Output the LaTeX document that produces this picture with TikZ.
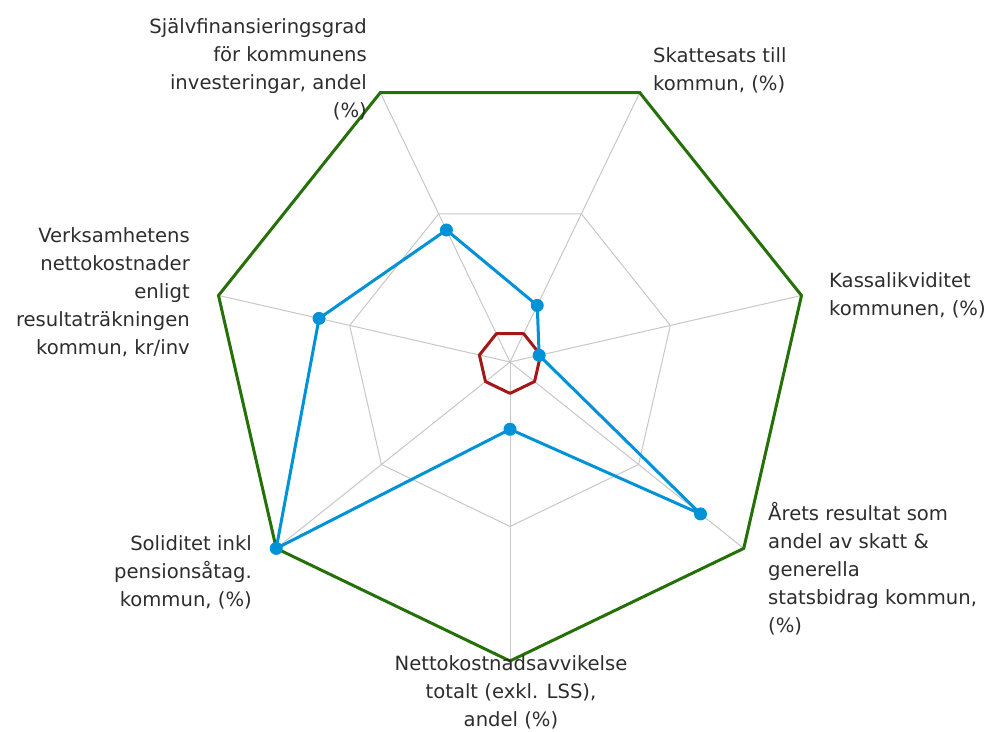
\documentclass[tikz,border=0pt]{standalone}
\usepackage{fontspec}
\setmainfont{DejaVu Sans}
\definecolor{seriesblue}{RGB}{0,146,214}
\definecolor{seriesgreen}{RGB}{38,112,10}
\definecolor{seriesred}{RGB}{165,22,22}
\definecolor{labelgray}{RGB}{45,45,45}
\def\radius{299}

\begin{document}
\begin{tikzpicture}[
    x=1pt, y=1pt,
    grid line/.style={draw=black!22, line width=1pt},
    max line/.style={draw=seriesgreen, line width=3pt},
    value line/.style={draw=seriesblue, line width=3pt, line join=round},
    min line/.style={draw=seriesred, line width=3pt, line join=round},
    dot/.style={circle, fill=seriesblue, minimum size=13pt, inner sep=0pt},
    annot/.style={font=\fontsize{19.6}{28}\selectfont, text=labelgray, inner sep=0pt, align=#1}
]
    \useasboundingbox (0,0) rectangle (987,731);
    \coordinate (C) at (510,369);

    % Corners of the outer, grid, data and minimum polygons
    \foreach \n/\v in {1/0.21, 2/0.10, 3/0.815, 4/0.225, 5/1.0, 6/0.655, 7/0.49} {
        \path (C) ++(115.714-\n*51.4286:\radius) coordinate (O-\n);
        \path (C) ++(115.714-\n*51.4286:0.55*\radius) coordinate (G-\n);
        \path (C) ++(115.714-\n*51.4286:0.105*\radius) coordinate (R-\n);
        \path (C) ++(115.714-\n*51.4286:\v*\radius) coordinate (B-\n);
    }

    % Draw the grid
    \draw[grid line] (G-1) \foreach \n in {2,...,7} {-- (G-\n)} -- cycle;
    \foreach \n in {1,...,7}
        \draw[grid line] (C) -- (O-\n);

    % Draw the series
    \draw[max line] (O-1) \foreach \n in {2,...,7} {-- (O-\n)} -- cycle;
    \draw[min line] (R-1) \foreach \n in {2,...,7} {-- (R-\n)} -- cycle;
    \draw[value line] (B-1) \foreach \n in {2,...,7} {-- (B-\n)} -- cycle;
    \foreach \n in {1,...,7}
        \node[dot] (D-\n) at (B-\n) {};

    % Annotate the axes
    \node[annot=left, anchor=north west] (L-1) at (653,684) {Skattesats till\\kommun, (\%)};
    \node[annot=left, anchor=north west] (L-2) at (829,459) {Kassalikviditet\\kommunen, (\%)};
    \node[annot=left, anchor=north west] (L-3) at (768,229) {Årets resultat som\\andel av skatt \&\\generella\\statsbidrag kommun,\\(\%)};
    \node[annot=center, anchor=north] (L-4) at (511,76) {Nettokostnadsavvikelse\\totalt (exkl. LSS),\\andel (\%)};
    \node[annot=right, anchor=north east] (L-5) at (252,196) {Soliditet inkl\\pensionsåtag.\\kommun, (\%)};
    \node[annot=right, anchor=north east] (L-6) at (190,504) {Verksamhetens\\nettokostnader\\enligt\\resultaträkningen\\kommun, kr/inv};
    \node[annot=right, anchor=north east] (L-7) at (367,713) {Självfinansieringsgrad\\för kommunens\\investeringar, andel\\(\%)};
\end{tikzpicture}
\end{document}
